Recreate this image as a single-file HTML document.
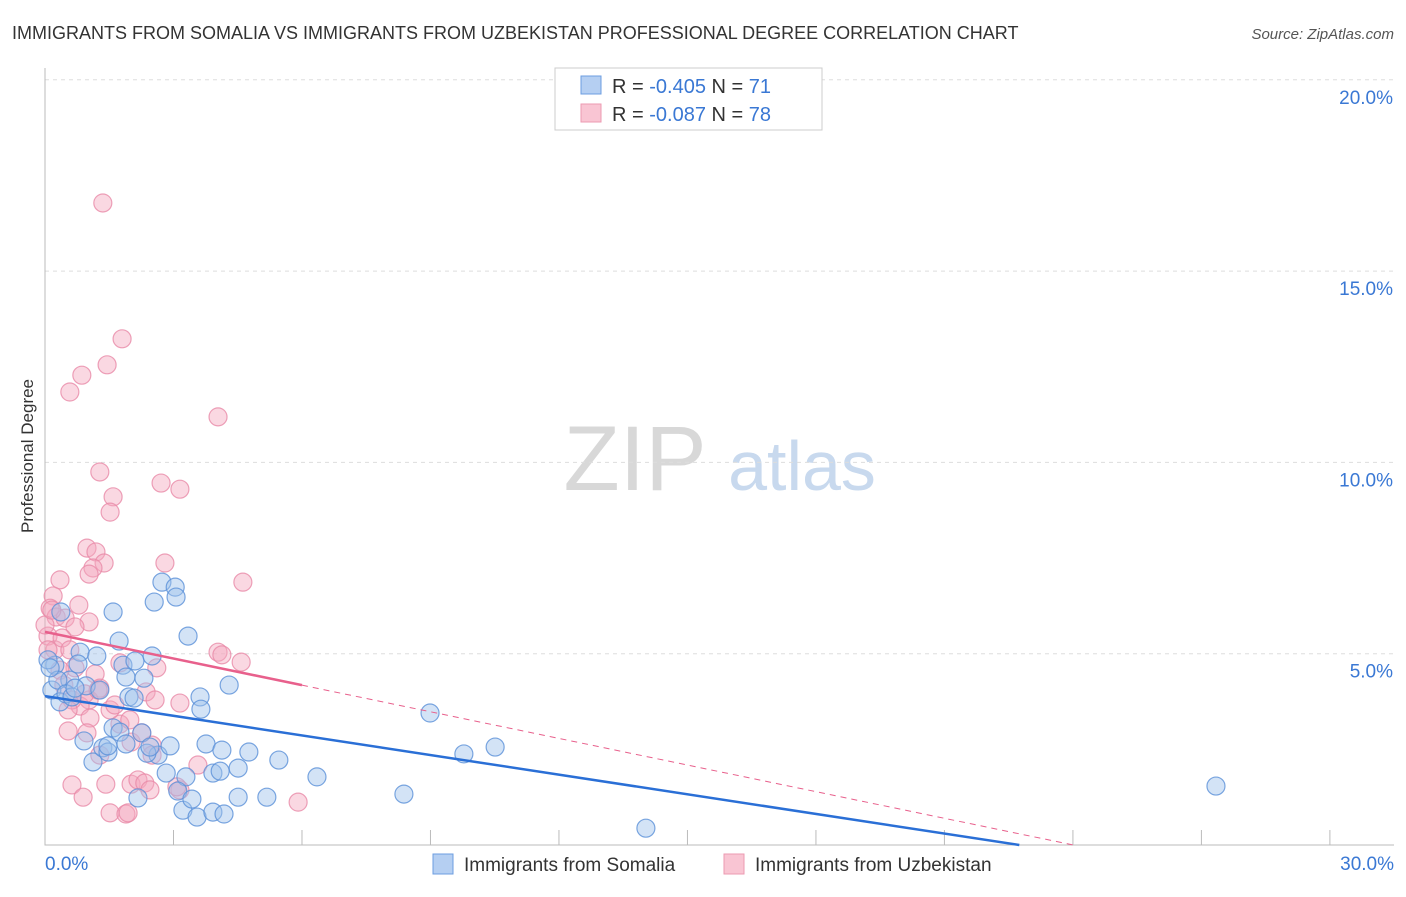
<!DOCTYPE html>
<html><head><meta charset="utf-8"><style>
body{margin:0;background:#fff;font-family:"Liberation Sans",sans-serif}
svg text{font-family:"Liberation Sans",sans-serif}
</style></head><body>
<svg id="chart" width="1406" height="892" xmlns="http://www.w3.org/2000/svg">
<text x="12" y="39" font-size="18" fill="#333">IMMIGRANTS FROM SOMALIA VS IMMIGRANTS FROM UZBEKISTAN PROFESSIONAL DEGREE CORRELATION CHART</text>
<text x="1394" y="39" font-size="15" fill="#555" text-anchor="end" font-style="italic">Source: ZipAtlas.com</text>
<text transform="translate(33,456) rotate(-90)" font-size="17" fill="#333" text-anchor="middle">Professional Degree</text>
<g>
<text x="635" y="490" font-size="92" fill="#d8d8d8" font-family="Liberation Serif" text-anchor="middle">ZIP</text>
<text x="802" y="490" font-size="70" fill="#c8d9ee" text-anchor="middle">atlas</text></g>
<g id="grid"></g><g id="marks"></g>
<g>
<rect x="555" y="68" width="267" height="62" fill="#fff" stroke="#ccc"/>
<rect x="581" y="76" width="20" height="18" fill="#b5cff2" stroke="#6c9ee0"/>
<rect x="581" y="104" width="20" height="18" fill="#f9c5d3" stroke="#ec9ab2"/>
<text x="612" y="93" font-size="20" fill="#333">R = <tspan fill="#3a78d4">-0.405</tspan>   N = <tspan fill="#3a78d4">71</tspan></text>
<text x="612" y="121" font-size="20" fill="#333">R = <tspan fill="#3a78d4">-0.087</tspan>   N = <tspan fill="#3a78d4">78</tspan></text>
</g>
<g>
<rect x="433" y="854" width="20" height="20" fill="#b5cff2" stroke="#6c9ee0"/>
<text x="464" y="871" font-size="19" fill="#333">Immigrants from Somalia</text>
<rect x="724" y="854" width="20" height="20" fill="#f9c5d3" stroke="#ec9ab2"/>
<text x="755" y="871" font-size="19" fill="#333">Immigrants from Uzbekistan</text>
</g>
</svg>
<script>
const yTicks=[5,10,15,20];
const yTickLabels=["5.0%","10.0%","15.0%","20.0%"];
const xTicks=[0,3,6,9,12,15,18,21,24,27,30];
const somaliaX=[0.37,0.82,1.21,0.23,0.07,0.16,0.35,0.58,0.77,0.96,1.28,1.59,1.73,1.82,1.96,1.89,2.10,2.31,2.50,2.55,2.73,3.04,3.06,3.34,3.62,3.64,4.30,0.91,1.12,1.35,1.59,1.75,1.89,2.26,2.64,2.38,2.92,2.83,3.29,3.10,3.22,3.43,3.55,3.76,3.92,4.09,4.13,3.92,4.18,4.51,4.51,4.76,5.18,5.46,6.35,2.17,8.38,8.99,9.78,10.51,14.03,27.34,0.30,0.49,0.63,0.12,0.70,1.47,2.45,1.47,2.08];
const somaliaY=[6.09,5.04,4.94,4.70,4.84,4.05,3.74,4.31,4.73,4.16,4.05,6.09,5.33,4.70,3.87,4.39,4.81,4.36,4.94,6.35,6.87,6.74,6.48,5.46,3.87,3.55,4.18,2.72,2.17,2.54,3.06,2.95,2.64,2.93,2.35,2.40,2.59,1.88,1.78,1.41,0.91,1.20,0.73,2.64,1.88,1.93,2.48,0.86,0.81,2.01,1.25,2.43,1.25,2.22,1.78,1.23,1.33,3.45,2.38,2.56,0.44,1.54,4.31,3.95,3.87,4.63,4.10,2.43,2.56,2.59,3.84];
const uzbekX=[1.35,1.80,1.45,0.86,0.58,4.04,1.28,2.71,3.15,1.59,1.52,0.98,1.19,1.38,1.12,1.03,2.80,4.62,0.35,0.19,0.12,0.79,0.26,0.47,1.03,0.70,0.07,0.23,4.04,4.13,4.58,2.61,1.75,1.17,0.70,2.36,3.15,1.28,1.03,0.82,0.63,0.54,1.05,1.75,1.52,0.54,0.98,1.28,2.01,2.50,2.26,2.50,3.15,3.57,0.63,0.89,1.42,2.01,2.17,2.33,2.45,1.52,1.89,1.94,5.91,3.08,0,0.07,0.35,0.44,0.93,1.24,1.63,1.98,2.57,0.16,0.40,0.58];
const uzbekY=[16.78,13.23,12.55,12.28,11.84,11.19,9.75,9.46,9.30,9.10,8.70,7.76,7.66,7.37,7.24,7.08,7.37,6.87,6.93,6.51,6.19,6.27,5.96,5.93,5.83,5.70,5.46,5.10,5.04,4.97,4.78,4.63,4.76,4.47,4.63,4.00,3.71,4.10,3.79,3.63,3.79,3.53,3.32,3.16,3.53,2.98,2.93,2.35,2.69,2.61,2.93,2.35,1.44,2.09,1.57,1.25,1.59,1.59,1.70,1.62,1.44,0.84,0.81,0.84,1.12,1.52,5.75,5.10,4.57,4.18,3.95,4.05,3.66,3.27,3.79,6.14,5.41,5.10];
const somaliaTrend=[3.89,-0.171];
const uzbekTrend=[5.57,-0.232];
const NS="http://www.w3.org/2000/svg";
const X=v=>45+v*42.83, Y=v=>845-v*38.26;
function mk(p,t,a){const e=document.createElementNS(NS,t);for(const k in a)e.setAttribute(k,a[k]);p.appendChild(e);return e;}
const grid=document.getElementById('grid'),marks=document.getElementById('marks');
yTicks.forEach((t,i)=>{
 const l=mk(grid,'line',{x1:45,x2:1394,y1:Y(t),y2:Y(t),stroke:'#ddd','stroke-dasharray':'4,4'});
 
 
 const tx=mk(grid,'text',{x:1393,y:Y(t)+24,'font-size':19,fill:'#3a78d4','text-anchor':'end'});
 tx.textContent=yTickLabels[i];
 
 
});
const ax=mk(grid,'path',{d:'M45,68V845H1394',stroke:'#bbb',fill:'none'});


xTicks.forEach(t=>{const l=mk(grid,'line',{x1:X(t),x2:X(t),y1:830,y2:845,stroke:'#bbb'});
 
 });
[[0,'0.0%',45,'start'],[30,'30.0%',1394,'end']].forEach(d=>{const t=mk(grid,'text',{x:d[2],y:870,'font-size':19,fill:'#3a78d4','text-anchor':d[3]});t.textContent=d[1];
 
 });
function pts(xs,ys,fill,stroke,name){xs.forEach((x,i)=>{const c=mk(marks,'circle',{cx:X(x),cy:Y(ys[i]),r:9,fill:fill,'fill-opacity':0.45,stroke:stroke,'stroke-opacity':0.8,'stroke-width':1.2});
 
 });}
pts(uzbekX,uzbekY,'#f5a9bf','#e98aa8','uzbekistan-point');
pts(somaliaX,somaliaY,'#9ec0ec','#5a90d8','somalia-point');
const x0b=-somaliaTrend[0]/somaliaTrend[1];
const lb=mk(marks,'line',{x1:X(0),y1:Y(somaliaTrend[0]),x2:X(x0b),y2:Y(0),stroke:'#2a6fd6','stroke-width':2.5});


const lp=mk(marks,'line',{x1:X(0),y1:Y(uzbekTrend[0]),x2:X(6),y2:Y(uzbekTrend[0]+6*uzbekTrend[1]),stroke:'#e8608c','stroke-width':2.5});


const x0p=-uzbekTrend[0]/uzbekTrend[1];
const ld=mk(marks,'line',{x1:X(6),y1:Y(uzbekTrend[0]+6*uzbekTrend[1]),x2:X(x0p),y2:Y(0),stroke:'#e8608c','stroke-width':1,'stroke-dasharray':'6,5'});


</script>
</body></html>
